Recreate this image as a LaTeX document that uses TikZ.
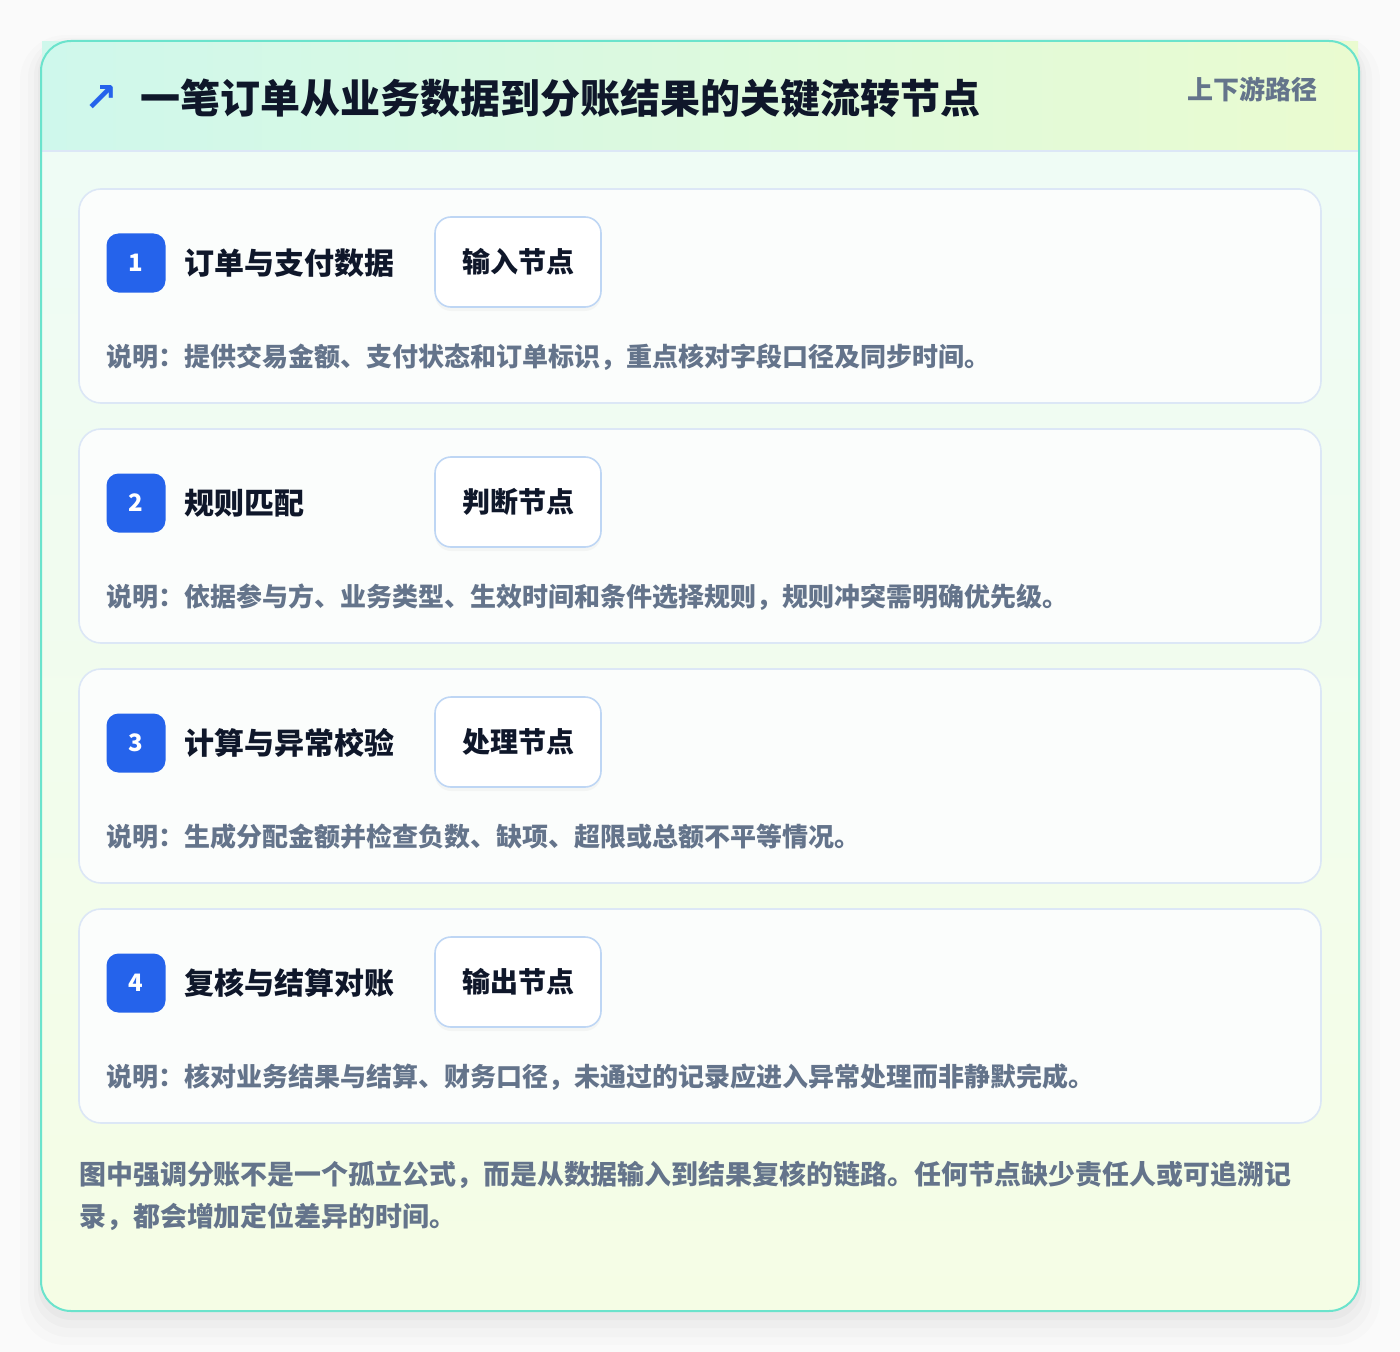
\documentclass[tikz,border=0pt]{standalone}
\usepackage{fontspec}
\setmainfont{Noto Sans CJK SC}
\newfontfamily\symbolfont{DejaVu Sans}
\usepackage{xcolor}
\usetikzlibrary{positioning,shadows}

\definecolor{inkcol}{HTML}{0F172A}
\definecolor{mutedcol}{HTML}{64748B}
\definecolor{accentcol}{HTML}{2563EB}
\definecolor{framecol}{HTML}{6BE3CC}
\definecolor{cardline}{HTML}{DCE7F6}
\definecolor{tagline}{HTML}{BED6F4}
\definecolor{headleft}{HTML}{CFF8EC}
\definecolor{headright}{HTML}{EAFBD0}
\definecolor{bodytop}{HTML}{EEFCF7}
\definecolor{bodybottom}{HTML}{F5FDE5}
\definecolor{cardfill}{HTML}{FBFDFC}

\tikzset{
  stepcard/.style={draw=cardline, line width=1.2pt, fill=cardfill, rounded corners=16.5pt,
    minimum width=931.5pt, minimum height=160.5pt, inner sep=0pt},
  badge/.style={fill=accentcol, rounded corners=9pt, minimum size=44.25pt, inner sep=0pt,
    text=white, font=\bfseries\fontsize{18}{20}\selectfont},
  steplabel/.style={text=inkcol, inner sep=0pt, font=\bfseries\fontsize{22.5}{26}\selectfont},
  tagbox/.style={draw=tagline, line width=1.2pt, fill=white, rounded corners=12pt,
    minimum width=124.5pt, minimum height=67.5pt, inner sep=0pt, text=inkcol,
    font=\bfseries\fontsize{21}{24}\selectfont,
    drop shadow={opacity=0.06, shadow xshift=0pt, shadow yshift=-3pt}},
  desc/.style={text=mutedcol, inner sep=0pt, font=\bfseries\fontsize{19.5}{22}\selectfont},
}

\begin{document}
\begin{tikzpicture}[x=0.75pt,y=0.75pt,yscale=-1]
\useasboundingbox (0,0) rectangle (1400,1352);
\fill[white!98!black] (0,0) rectangle (1400,1352);

%Shadow layers
\fill[black, opacity=0.012, rounded corners=34pt] (20,35) rectangle (1380,1345);
\fill[black, opacity=0.015, rounded corners=30pt] (28,38) rectangle (1372,1337);
\fill[black, opacity=0.02, rounded corners=27pt] (34,40) rectangle (1366,1328);
\fill[black, opacity=0.025, rounded corners=25pt] (38,41) rectangle (1362,1320);

%Card body
\shade[top color=bodytop, bottom color=bodybottom, rounded corners=22.5pt] (41,41) rectangle (1359,1311);
%Header band
\shade[left color=headleft, right color=headright] (42,42) rectangle (1358,151);
\draw[cardline, line width=1pt] (42,151) -- (1358,151);
%Card border
\draw[framecol, line width=1.5pt, rounded corners=22.5pt] (41,41) rectangle (1359,1311);

% Header texts
\node[text=accentcol, inner sep=0pt, font=\symbolfont\bfseries\fontsize{30}{32}\selectfont] (icon) at (101,99) {↗};
\node[anchor=west, text=inkcol, inner sep=0pt, font=\bfseries\fontsize{30}{34}\selectfont] (title) at (140,98) {一笔订单从业务数据到分账结果的关键流转节点};
\node[anchor=east, text=mutedcol, inner sep=0pt, font=\bfseries\fontsize{19.5}{22}\selectfont] (route) at (1318,89) {上下游路径};

% Step 1
\node[stepcard] (card1) at (700,296) {};
\node[badge] (num1) at (136,263) {1};
\node[steplabel, right=14pt of num1] (name1) {订单与支付数据};
\node[tagbox] (tag1) at (518,262) {输入节点};
\node[desc, anchor=west] (note1) at (106,357) {说明：提供交易金额、支付状态和订单标识，重点核对字段口径及同步时间。};

% Step 2
\node[stepcard] (card2) at (700,536) {};
\node[badge] (num2) at (136,503) {2};
\node[steplabel, right=14pt of num2] (name2) {规则匹配};
\node[tagbox] (tag2) at (518,502) {判断节点};
\node[desc, anchor=west] (note2) at (106,597) {说明：依据参与方、业务类型、生效时间和条件选择规则，规则冲突需明确优先级。};

% Step 3
\node[stepcard] (card3) at (700,776) {};
\node[badge] (num3) at (136,743) {3};
\node[steplabel, right=14pt of num3] (name3) {计算与异常校验};
\node[tagbox] (tag3) at (518,742) {处理节点};
\node[desc, anchor=west] (note3) at (106,837) {说明：生成分配金额并检查负数、缺项、超限或总额不平等情况。};

% Step 4
\node[stepcard] (card4) at (700,1016) {};
\node[badge] (num4) at (136,983) {4};
\node[steplabel, right=14pt of num4] (name4) {复核与结算对账};
\node[tagbox] (tag4) at (518,982) {输出节点};
\node[desc, anchor=west] (note4) at (106,1077) {说明：核对业务结果与结算、财务口径，未通过的记录应进入异常处理而非静默完成。};

% Footer note
\node[anchor=north west, align=left, text=mutedcol, inner sep=0pt, font=\bfseries\fontsize{20.2}{31.5}\selectfont] (summary) at (79,1161)
  {图中强调分账不是一个孤立公式，而是从数据输入到结果复核的链路。任何节点缺少责任人或可追溯记\\录，都会增加定位差异的时间。};

\end{tikzpicture}
\end{document}
